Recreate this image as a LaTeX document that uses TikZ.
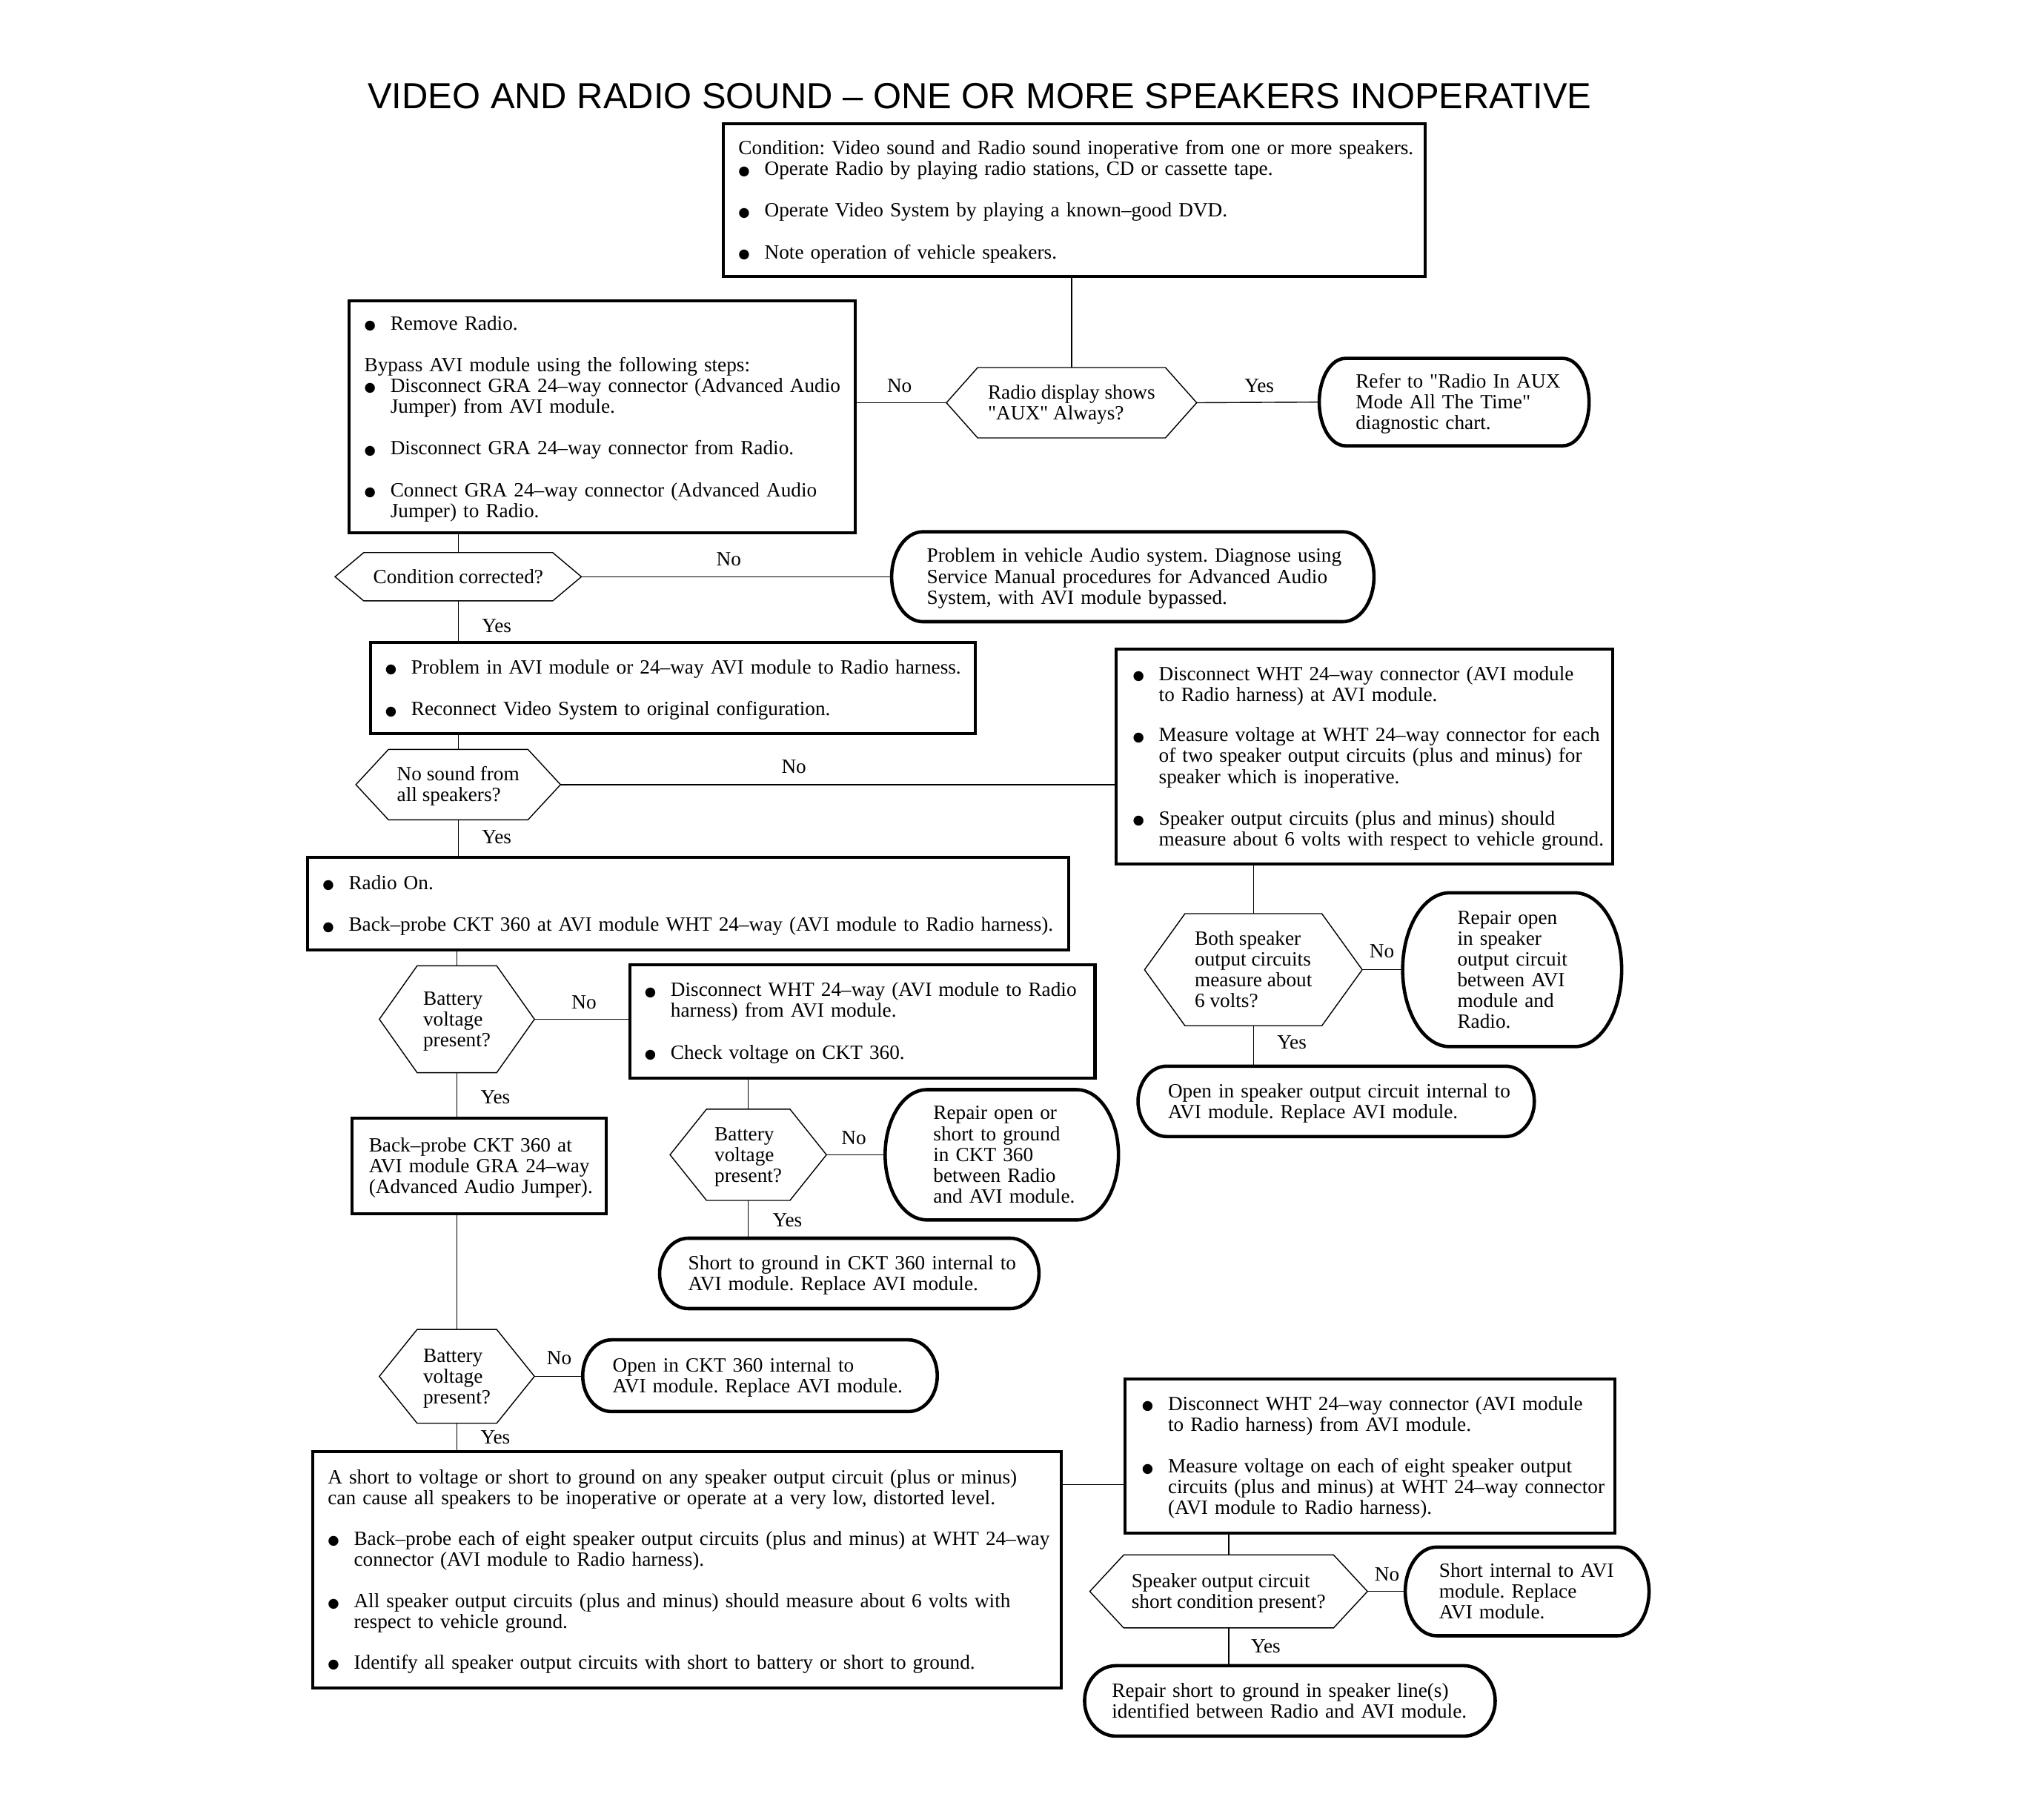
\documentclass[tikz,border=0pt]{standalone}
\usepackage{fontspec}
\setmainfont{Liberation Serif}
\newfontfamily\txtf{Liberation Serif}
\newfontfamily\titlefont{Liberation Sans}
\newfontfamily\symf{DejaVu Sans}
\usetikzlibrary{calc}
\frenchspacing
\newcommand\bu{\makebox[20pt][l]{\raisebox{0.3pt}{\symf\fontsize{10}{10}\selectfont ●}}}
\newcommand\ind{\hspace*{20pt}}
\newcommand\txl[1]{\raisebox{-1.8pt}[\height][\depth]{\begin{tabular}{@{}l@{}}#1\end{tabular}}}
\newcommand\hexo[2]{\draw[hexline] (#1.west) -- ([xshift=#2]#1.north west) -- ([xshift=-#2]#1.north east) -- (#1.east) -- ([xshift=-#2]#1.south east) -- ([xshift=#2]#1.south west) -- cycle;}
\newcommand\termo[2]{\draw[termline] ([xshift=#2]#1.north west) -- ([xshift=-#2]#1.north east)
 .. controls ([xshift={-0.4477*#2}]#1.north east) and ($(#1.east)!0.5523!(#1.north east)$) .. (#1.east)
 .. controls ($(#1.east)!0.5523!(#1.south east)$) and ([xshift={-0.4477*#2}]#1.south east) .. ([xshift=-#2]#1.south east)
 -- ([xshift=#2]#1.south west)
 .. controls ([xshift={0.4477*#2}]#1.south west) and ($(#1.west)!0.5523!(#1.south west)$) .. (#1.west)
 .. controls ($(#1.west)!0.5523!(#1.north west)$) and ([xshift={0.4477*#2}]#1.north west) .. ([xshift=#2]#1.north west) -- cycle;}
\tikzset{
  every node/.style={font=\txtf\fontsize{15.5}{16}\selectfont},
  sqbox/.style={draw, line width=2.3pt, inner xsep=11.5pt, inner ysep=0pt, outer sep=0pt, align=left},
  termbox/.style={inner ysep=0pt, outer sep=0pt, align=left},
  hexbox/.style={inner sep=0pt, outer sep=0pt},
  hexline/.style={line width=0.8pt, line join=miter},
  termline/.style={line width=2.6pt},
  conn/.style={line width=0.8pt},
  yn/.style={inner sep=0pt}
}
\begin{document}
\begin{tikzpicture}[x=1pt,y=-1pt]
\useasboundingbox[fill=white] (0,0) rectangle (1568,1389);
\node[font=\titlefont\fontsize{27.8}{28}\selectfont] (title) at (751.5,74) {VIDEO AND RADIO SOUND – ONE OR MORE SPEAKERS INOPERATIVE};

% rectangular boxes
\node[sqbox, text width=515pt, minimum height=117pt] (cond) at (824,153.5) {\txl{Condition: Video sound and Radio sound inoperative from one or more speakers.\\
\bu Operate Radio by playing radio stations, CD or cassette tape.\\[16pt]
\bu Operate Video System by playing a known–good DVD.\\[16pt]
\bu Note operation of vehicle speakers.}};

\node[sqbox, text width=365pt, minimum height=178pt] (remove) at (462,320) {\txl{\bu Remove Radio.\\[16pt]
Bypass AVI module using the following steps:\\
\bu Disconnect GRA 24–way connector (Advanced Audio\\
\ind Jumper) from AVI module.\\[16pt]
\bu Disconnect GRA 24–way connector from Radio.\\[16pt]
\bu Connect GRA 24–way connector (Advanced Audio\\
\ind Jumper) to Radio.}};

\node[sqbox, text width=441pt, minimum height=70pt] (avi) at (516,528) {\txl{\bu Problem in AVI module or 24–way AVI module to Radio harness.\\[16pt]
\bu Reconnect Video System to original configuration.}};

\node[sqbox, text width=561pt, minimum height=71pt] (radioon) at (528,693.5) {\txl{\bu Radio On.\\[16pt]
\bu Back–probe CKT 360 at AVI module WHT 24–way (AVI module to Radio harness).}};

\node[sqbox, text width=334pt, minimum height=87pt] (disc2) at (661.5,783.5) {\txl{\bu Disconnect WHT 24–way (AVI module to Radio\\
\ind harness) from AVI module.\\[16pt]
\bu Check voltage on CKT 360.}};

\node[sqbox, inner xsep=13pt, text width=169pt, minimum height=73pt] (backprobe) at (367.5,894.5) {\txl{Back–probe CKT 360 at\\
AVI module GRA 24–way\\
(Advanced Audio Jumper).}};

\node[sqbox, text width=551pt, minimum height=181pt] (bigshort) at (527,1204.5) {\txl{A short to voltage or short to ground on any speaker output circuit (plus or minus)\\
can cause all speakers to be inoperative or operate at a very low, distorted level.\\[15pt]
\bu Back–probe each of eight speaker output circuits (plus and minus) at WHT 24–way\\
\ind connector (AVI module to Radio harness).\\[16pt]
\bu All speaker output circuits (plus and minus) should measure about 6 volts with\\
\ind respect to vehicle ground.\\[15pt]
\bu Identify all speaker output circuits with short to battery or short to ground.}};

\node[sqbox, inner xsep=13pt, text width=355pt, minimum height=165pt] (wht1) at (1046.5,580.5) {\txl{\bu Disconnect WHT 24–way connector (AVI module\\
\ind to Radio harness) at AVI module.\\[15pt]
\bu Measure voltage at WHT 24–way connector for each\\
\ind of two speaker output circuits (plus and minus) for\\
\ind speaker which is inoperative.\\[16pt]
\bu Speaker output circuits (plus and minus) should\\
\ind measure about 6 volts with respect to vehicle ground.}};

\node[sqbox, inner xsep=13pt, text width=350pt, minimum height=118pt] (wht3) at (1051,1117) {\txl{\bu Disconnect WHT 24–way connector (AVI module\\
\ind to Radio harness) from AVI module.\\[16pt]
\bu Measure voltage on each of eight speaker output\\
\ind circuits (plus and minus) at WHT 24–way connector\\
\ind (AVI module to Radio harness).}};

% terminals
\node[termbox, inner xsep=28pt, text width=151pt, minimum height=67pt] (refer) at (1115.5,308.5) {\txl{Refer to "Radio In AUX\\ Mode All The Time"\\ diagnostic chart.}};
\node[termbox, inner xsep=27pt, text width=316pt, minimum height=69pt] (problem) at (869,442.5) {\txl{Problem in vehicle Audio system. Diagnose using\\ Service Manual procedures for Advanced Audio\\ System, with AVI module bypassed.}};
\node[termbox, inner xsep=37pt, text width=105pt, minimum height=100pt] (repair1) at (768.5,886) {\txl{Repair open or\\ short to ground\\ in CKT 360\\ between Radio\\ and AVI module.}};
\node[termbox, inner xsep=22pt, text width=247pt, minimum height=54pt] (short1) at (651.5,977) {\txl{Short to ground in CKT 360 internal to\\ AVI module. Replace AVI module.}};
\node[termbox, inner xsep=23pt, text width=226pt, minimum height=55pt] (open1) at (583,1055.5) {\txl{Open in CKT 360 internal to\\ AVI module. Replace AVI module.}};
\node[termbox, inner xsep=26pt, text width=135pt, minimum height=68pt] (short2) at (1171.5,1221) {\txl{Short internal to AVI\\ module. Replace\\ AVI module.}};
\node[termbox, inner xsep=21pt, text width=273pt, minimum height=54pt] (repair2) at (989.5,1305) {\txl{Repair short to ground in speaker line(s)\\ identified between Radio and AVI module.}};
\node[termbox, inner xsep=42pt, text width=84pt, minimum height=118pt] (repair3) at (1160,744) {\txl{Repair open\\ in speaker\\ output circuit\\ between AVI\\ module and\\ Radio.}};
\node[termbox, inner xsep=23pt, text width=258pt, minimum height=54pt] (open2) at (1025,845) {\txl{Open in speaker output circuit internal to\\ AVI module. Replace AVI module.}};
\termo{refer}{20pt}
\termo{problem}{24pt}
\termo{repair1}{32pt}
\termo{short1}{22pt}
\termo{open1}{22pt}
\termo{short2}{24pt}
\termo{repair2}{24pt}
\termo{repair3}{36pt}
\termo{open2}{22pt}

% decisions
\node[hexbox, minimum width=192pt, minimum height=54pt] (aux) at (822,309) {\txl{Radio display shows\\ "AUX" Always?}};
\node[hexbox, minimum width=189pt, minimum height=37pt] (corrected) at (351.5,442.5) {\txl{Condition corrected?}};
\node[hexbox, minimum width=157pt, minimum height=54pt] (nosound) at (351.5,602) {\txl{No sound from\\ all speakers?}};
\node[hexbox, minimum width=119pt, minimum height=82pt] (batt1) at (350.5,782) {\txl{Battery\\ voltage\\ present?}};
\node[hexbox, minimum width=120pt, minimum height=70pt] (batt2) at (574,886) {\txl{Battery\\ voltage\\ present?}};
\node[hexbox, minimum width=119pt, minimum height=72pt] (batt3) at (350.5,1056) {\txl{Battery\\ voltage\\ present?}};
\node[hexbox, minimum width=213pt, minimum height=56pt] (spkshort) at (942.5,1221) {\txl{Speaker output circuit\\ short condition present?}};
\node[hexbox, minimum width=167pt, minimum height=86pt] (both) at (961.5,744) {\txl{Both speaker\\ output circuits\\ measure about\\ 6 volts?}};
\hexo{aux}{24pt}
\hexo{corrected}{22pt}
\hexo{nosound}{25pt}
\hexo{batt1}{29pt}
\hexo{batt2}{28pt}
\hexo{batt3}{29pt}
\hexo{spkshort}{26pt}
\hexo{both}{31pt}

% connectors
\coordinate (j1) at (0,1139);
\draw[conn] (aux.north |- cond.south) -- (aux.north);
\draw[conn] (aux.west) -- (aux.west -| remove.east);
\draw[conn] (aux.east) -- (refer.west);
\draw[conn] (corrected.north |- remove.south) -- (corrected.north);
\draw[conn] (corrected.east) -- (corrected.east -| problem.west);
\draw[conn] (corrected.south) -- (corrected.south |- avi.north);
\draw[conn] (nosound.north |- avi.south) -- (nosound.north);
\draw[conn] (nosound.east) -- (nosound.east -| wht1.west);
\draw[conn] (nosound.south) -- (nosound.south |- radioon.north);
\draw[conn] (batt1.north |- radioon.south) -- (batt1.north);
\draw[conn] (batt1.east) -- (batt1.east -| disc2.west);
\draw[conn] (batt1.south) -- (batt1.south |- backprobe.north);
\draw[conn] (batt2.north |- disc2.south) -- (batt2.north);
\draw[conn] (batt2.east) -- (repair1.west);
\draw[conn] (batt2.south) -- (batt2.south |- short1.north);
\draw[conn] (batt3.north |- backprobe.south) -- (batt3.north);
\draw[conn] (batt3.east) -- (batt3.east -| open1.west);
\draw[conn] (batt3.south) -- (batt3.south |- bigshort.north);
\draw[conn] (bigshort.east |- j1) -- (wht3.west |- j1);
\draw[conn] (spkshort.north |- wht3.south) -- (spkshort.north);
\draw[conn] (spkshort.east) -- (short2.west);
\draw[conn] (spkshort.south) -- (spkshort.south |- repair2.north);
\draw[conn] (both.north |- wht1.south) -- (both.north);
\draw[conn] (both.east) -- (repair3.west);
\draw[conn] (both.south) -- (both.south |- open2.north);

% labels
\node[yn] (n1) at (690,296) {No};
\node[yn] (y1) at (966,296) {Yes};
\node[yn] (n2) at (559,429) {No};
\node[yn] (y2) at (381,480) {Yes};
\node[yn] (n3) at (609,588) {No};
\node[yn] (y3) at (381,642) {Yes};
\node[yn] (n4) at (448,769) {No};
\node[yn] (y4) at (380,842) {Yes};
\node[yn] (n5) at (655,873) {No};
\node[yn] (y5) at (604,936) {Yes};
\node[yn] (n6) at (429,1042) {No};
\node[yn] (y6) at (380,1103) {Yes};
\node[yn] (n7) at (1064,1208) {No};
\node[yn] (y7) at (971,1263) {Yes};
\node[yn] (n8) at (1060,730) {No};
\node[yn] (y8) at (991,800) {Yes};
\end{tikzpicture}
\end{document}
